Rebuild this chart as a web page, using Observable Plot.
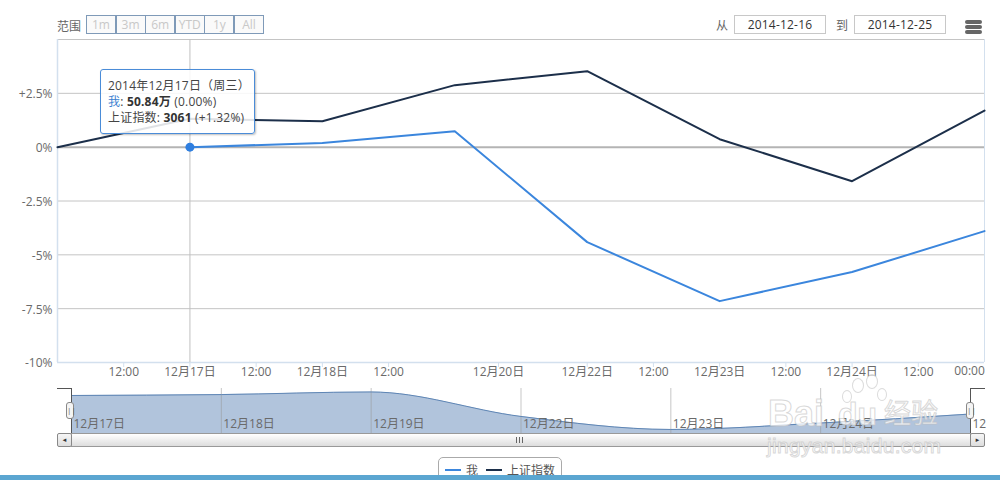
<!DOCTYPE html>
<html lang="zh">
<head>
<meta charset="utf-8">
<script src="https://cdn.jsdelivr.net/npm/d3@7"></script>
<script src="https://cdn.jsdelivr.net/npm/@observablehq/plot@0.6"></script>
<style>
html,body{margin:0;padding:0;background:#fff;overflow:hidden}
body{width:1000px;height:480px;position:relative;font-family:"Open Sans","Noto Sans CJK SC",sans-serif;font-size:12px;color:#666}
.abs{position:absolute;box-sizing:border-box}
#main,#nav{position:absolute;left:0;width:1000px}
#main{top:0}#nav{top:380px}
svg{display:block;background:transparent!important;font-family:"Open Sans","Noto Sans CJK SC",sans-serif}
.btn{top:15px;height:19px;width:30px;border:1px solid #7f9ab8;text-align:center;line-height:17px;color:#c8c8c8;background:#fafafa}
.inp{top:15px;height:19px;border:1px solid #c8c8c8;text-align:center;line-height:17px;color:#333;background:#fff;letter-spacing:.2px}
.bar{left:965px;width:17px;height:4px;background:#666;border-radius:2px}
.handle{top:402px;width:8px;height:17px;background:#f4f4f4;border:1px solid #888;border-radius:3px;font-size:8px;line-height:14px;text-align:center;color:#666}
#tip{left:100px;top:69px;width:155px;height:65px;border:1px solid #4a8cd8;border-radius:3px;background:rgba(255,255,255,.86);padding:8px 7px 0;line-height:15.8px;color:#444;box-shadow:1px 1px 2px rgba(0,0,0,.25);white-space:nowrap;letter-spacing:.2px}
#tip b{color:#333}
.wm{color:rgba(255,255,255,.75);-webkit-text-stroke:1px rgba(190,190,190,.6);font-family:"Liberation Sans",sans-serif;white-space:nowrap}
.paw{background:rgba(255,255,255,.7);border:1px solid rgba(190,190,190,.55);border-radius:50%}
</style>
</head>
<body>
<div id="main"></div>
<div id="nav"></div>

<div class="abs" style="left:57px;top:17px">范围</div>
<div id="btns"></div>
<div class="abs" style="left:716px;top:16px">从</div>
<div class="abs inp" style="left:734px;width:92px">2014-12-16</div>
<div class="abs" style="left:836px;top:16px">到</div>
<div class="abs inp" style="left:854px;width:92px">2014-12-25</div>
<div class="abs bar" style="top:20px"></div>
<div class="abs bar" style="top:25px"></div>
<div class="abs bar" style="top:30px"></div>

<div class="abs" id="tip">
  <div>2014年12月17日（周三）</div>
  <div><span style="color:#3b7fd0">我</span>: <b>50.84万</b> (0.00%)</div>
  <div>上证指数: <b>3061</b> (+1.32%)</div>
</div>

<!-- navigator furniture -->
<div class="abs" style="left:57px;top:388px;width:15px;height:45px;border-top:1px solid #555;border-right:1px solid #555"></div>
<div class="abs" style="left:970px;top:388px;width:15px;height:59px;border-top:1px solid #555;border-left:1px solid #555"></div>
<div class="abs" style="left:71px;top:433px;width:900px;height:14px;border:1px solid #999;border-left:0;background:linear-gradient(#fff,#ddd)"></div>
<div class="abs" style="left:516px;top:437px;width:7px;height:6px;border-left:1px solid #666;border-right:1px solid #666"></div>
<div class="abs" style="left:519px;top:437px;width:1px;height:6px;background:#666"></div>
<div class="abs" style="left:57px;top:433px;width:15px;height:14px;border:1px solid #888;border-radius:2px;background:linear-gradient(#f6f6f6,#ddd);text-align:center;font-size:6px;line-height:12px;color:#333">◄</div>
<div class="abs" style="left:970px;top:433px;width:15px;height:14px;border:1px solid #888;border-radius:2px;background:linear-gradient(#f6f6f6,#ddd);text-align:center;font-size:6px;line-height:12px;color:#333">►</div>
<div class="abs handle" style="left:66px">||</div>
<div class="abs handle" style="left:966px">||</div>

<!-- legend -->
<div class="abs" style="left:438px;top:457px;width:124px;height:30px;border:1px solid #aaa;border-radius:5px;background:#fff"></div>
<div class="abs" style="left:445px;top:469px;width:16px;height:2px;background:#3b86dd"></div>
<div class="abs" style="left:466px;top:461px;color:#555">我</div>
<div class="abs" style="left:486px;top:469px;width:16px;height:2px;background:#1c2f4a"></div>
<div class="abs" style="left:507px;top:461px;color:#555">上证指数</div>
<div class="abs" style="left:0;top:475px;width:1000px;height:5px;background:#5ba6d1"></div>

<!-- watermark -->
<div class="abs paw" style="left:852px;top:378px;width:12px;height:15px"></div>
<div class="abs paw" style="left:866px;top:374px;width:12px;height:15px"></div>
<div class="abs paw" style="left:842px;top:390px;width:10px;height:13px"></div>
<div class="abs paw" style="left:877px;top:388px;width:10px;height:13px"></div>
<div class="abs wm" style="left:768px;top:394px;font-size:36px;line-height:40px;font-weight:bold">Bai</div>
<div class="abs wm" style="left:838px;top:394px;font-size:32px;line-height:40px;font-weight:bold">du</div>
<div class="abs wm" style="left:884px;top:396px;font-size:27px;line-height:32px;font-family:'Noto Sans CJK SC'">经验</div>
<div class="abs wm" style="left:767px;top:434px;font-size:21px;line-height:24px;letter-spacing:.3px">jingyan.baidu.com</div>

<script>
// Series values (percent change), one per trading day
const days      = [0, 1, 2, 3, 4, 5, 6, 7];
const sseValues = [0, 1.32, 1.2, 2.88, 3.53, 0.37, -1.58, 1.7];
const meDays    = [1, 2, 3, 4, 5, 6, 7];
const meValues  = [0, 0.19, 0.74, -4.41, -7.15, -5.8, -3.9];

// Axis ticks
const yTicks      = [-10, -7.5, -5, -2.5, 0, 2.5];
const yTickLabels = ["-10%", "-7.5%", "-5%", "-2.5%", "0%", "+2.5%"];
const xTicks      = [0.5, 1, 1.5, 2, 2.5, 3.33, 4, 4.5, 5, 5.5, 6, 6.5];
const xTickLabels = ["12:00", "12月17日", "12:00", "12月18日", "12:00", "12月20日", "12月22日", "12:00", "12月23日", "12:00", "12月24日", "12:00"];
const xEnd        = [7];
const xEndLabel   = ["00:00"];

// Navigator
const navDays   = [1, 2, 3, 4, 5, 6, 7];
const navLabels = ["12月17日", "12月18日", "12月19日", "12月22日", "12月23日", "12月24日", "12"];

// Range buttons
const rangeLabels = ["1m", "3m", "6m", "YTD", "1y", "All"];

const FONT = '"Open Sans","Noto Sans CJK SC",sans-serif';
const blue = "#3b86dd", navy = "#1c2f4a", grey = "#c4c4c4", pale = "#d3e0ee", label = "#6a6a6a";

const xMap = new Map(xTicks.map((t, i) => [t, xTickLabels[i]]));
const yMap = new Map(yTicks.map((t, i) => [t, yTickLabels[i]]));

const sse = days.map((d, i) => ({d, v: sseValues[i]}));
const me  = meDays.map((d, i) => ({d, v: meValues[i]}));
const nav = navDays.map((d, i) => ({d, v: meValues[i], label: navLabels[i]}));

document.getElementById("main").append(Plot.plot({
  width: 1000, height: 390,
  marginLeft: 57, marginRight: 16, marginTop: 39, marginBottom: 28,
  style: {fontFamily: FONT, fontSize: "12px", color: label, background: "transparent"},
  x: {domain: [0, 7]},
  y: {domain: [-10, 5]},
  marks: [
    Plot.ruleY([-7.5, -5, -2.5, 2.5, 5], {stroke: grey, strokeOpacity: 1}),
    Plot.ruleY([0], {stroke: "#b4b4b4", strokeWidth: 2}),
    Plot.ruleY([-10], {stroke: pale, strokeWidth: 1.5}),
    Plot.ruleX([0], {stroke: pale, strokeWidth: 1.5}),
    Plot.ruleX([1], {stroke: "#c0c0c0"}),
    Plot.axisY({ticks: yTicks, tickFormat: d => yMap.get(d), tickSize: 0, tickPadding: 5, dy: 1, label: null, fill: label, fontSize: 12}),
    Plot.axisX({ticks: xTicks, tickFormat: d => xMap.get(d), tickSize: 5, tickPadding: 0, label: null, fill: label, stroke: pale, fontSize: 12}),
    Plot.tickX(xEnd, {x: d => d, y1: -10, stroke: pale}),
    Plot.text(xEnd, {x: d => d, y: -10, text: (d, i) => xEndLabel[i], dy: 9, dx: -15, fill: label, fontSize: 12}),
    Plot.line(sse, {x: "d", y: "v", stroke: navy, strokeWidth: 2}),
    Plot.line(me, {x: "d", y: "v", stroke: blue, strokeWidth: 2}),
    Plot.dot(me.slice(0, 1), {x: "d", y: "v", r: 4.5, fill: "#2f7fe0"})
  ]
}));

document.getElementById("nav").append(Plot.plot({
  width: 1000, height: 53,
  marginLeft: 71, marginRight: 30, marginTop: 8, marginBottom: 0,
  style: {fontFamily: FONT, fontSize: "12px", color: label, background: "transparent"},
  x: {domain: [1, 7], axis: null},
  y: {domain: [-8, 1.47], axis: null},
  marks: [
    Plot.areaY(nav, {x: "d", y1: -8, y2: "v", curve: "monotone-x", fill: "#b1c4dc"}),
    Plot.ruleX(navDays.slice(1, 6), {stroke: "#999", strokeOpacity: .55}),
    Plot.line(nav, {x: "d", y: "v", curve: "monotone-x", stroke: "#5f86b5", strokeWidth: 1}),
    Plot.text(nav, {x: "d", y: -8, text: "label", textAnchor: "start", dx: 2, dy: -9, fill: label, fontSize: 12}),
    Plot.ruleY([-8], {stroke: "#999"})
  ]
}));

const btns = document.getElementById("btns");
rangeLabels.forEach((t, i) => {
  const b = document.createElement("div");
  b.className = "abs btn";
  b.style.left = (86 + i * 29.6) + "px";
  b.textContent = t;
  btns.append(b);
});
</script>
</body>
</html>
